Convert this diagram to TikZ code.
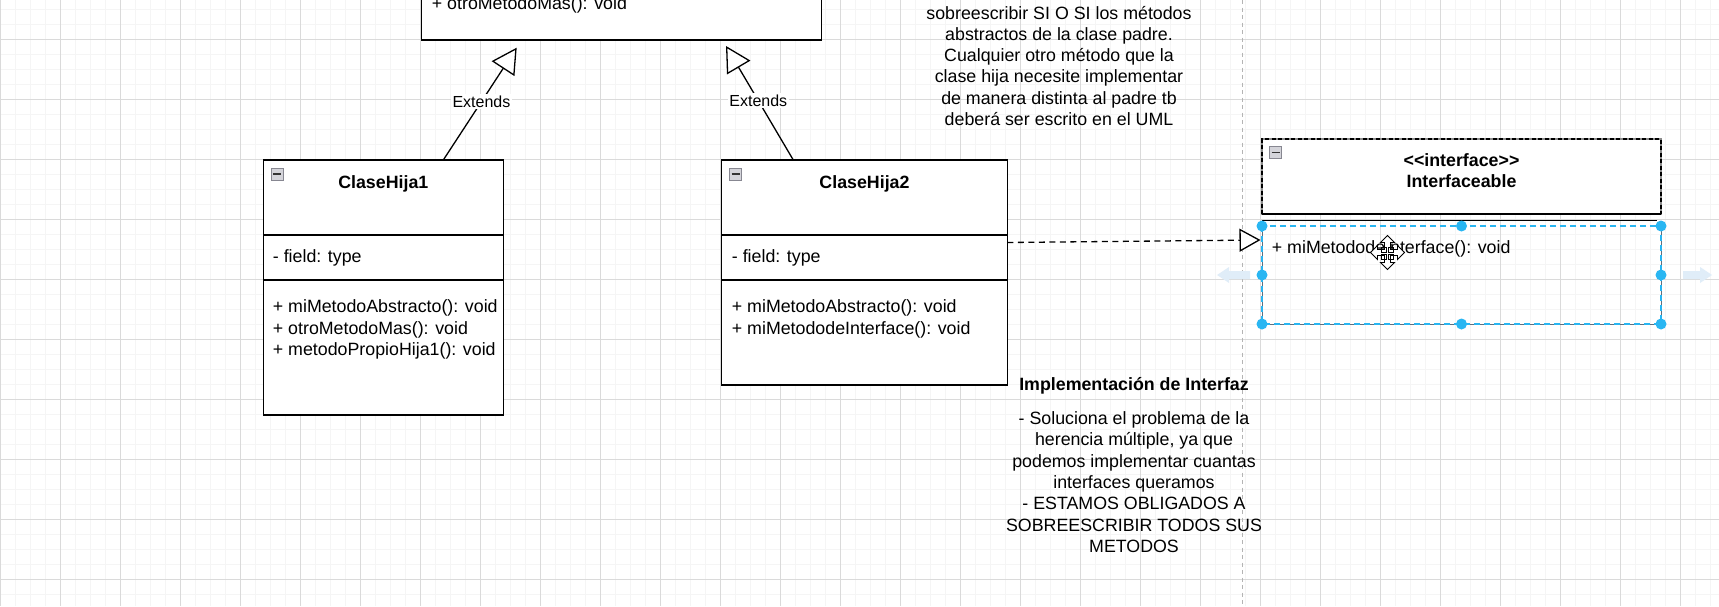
\documentclass[tikz,border=0pt]{standalone}
\usepackage{fontspec}
\setmainfont{Liberation Sans}
\usetikzlibrary{arrows.meta}
\definecolor{gridmajor}{RGB}{218,218,218}
\definecolor{gridminor}{RGB}{245,245,245}
\definecolor{selblue}{RGB}{41,182,242}
\definecolor{guidegray}{RGB}{180,180,180}
\definecolor{hoverblue}{RGB}{224,237,248}
\definecolor{iconfill}{RGB}{212,212,218}
\definecolor{icondraw}{RGB}{135,135,145}
\definecolor{edgegray}{RGB}{95,110,125}
\begin{document}
\begin{tikzpicture}[x=1pt,y=-1pt,
  font=\fontsize{17.8}{21.3}\selectfont,
  classbox/.style={draw=black, line width=1.5pt, fill=white, anchor=north west, inner sep=0pt, outer sep=0pt},
  divider/.style={draw=black, line width=1.5pt},
  member/.style={anchor=base west, inner sep=0pt},
  ctitle/.style={anchor=base, inner sep=0pt, font=\fontsize{17.8}{21.3}\selectfont\bfseries},
  extlabel/.style={fill=white, inner sep=1.5pt, font=\fontsize{16}{19}\selectfont},
  conn/.style={line width=1.3pt, draw=black},
  note/.style={align=center, inner sep=0pt, anchor=base},
  handle/.style={circle, fill=selblue, minimum size=11pt, inner sep=0pt},
  minbox/.style={draw=icondraw, fill=iconfill, line width=0.8pt, minimum size=12pt, inner sep=0pt,
    path picture={\draw[line width=1.8pt, black!80] ([xshift=-4pt]path picture bounding box.center) -- ([xshift=4pt]path picture bounding box.center);}},
  hoverarrow/.style={fill=hoverblue, draw=none}
]
\useasboundingbox (0,0) rectangle (1719,606);
\clip (0,0) rectangle (1719,606);
\fill[white] (0,0) rectangle (1719,606);
% grid
\foreach \i in {0,...,114} { \draw[gridminor, line width=1pt] (\i*15+0.3,0) -- (\i*15+0.3,606); }
\foreach \k in {-3,...,38} { \draw[gridminor, line width=1pt] (0,39.3+\k*15) -- (1719,39.3+\k*15); }
\foreach \i in {0,...,28} { \draw[gridmajor, line width=1pt] (\i*60+0.3,0) -- (\i*60+0.3,606); }
\foreach \k in {-1,...,9} { \draw[gridmajor, line width=1pt] (0,39.3+\k*60) -- (1719,39.3+\k*60); }
% vertical guide
\draw[guidegray, line width=1.3pt, dash pattern=on 4pt off 3.5pt] (1242.7,0) -- (1242.7,606);

% parent class (cut off at top)
\node[classbox, minimum width=400pt, minimum height=110pt] (parent) at (421.7,-70) {};
\node[member] (pm) at (431.7,9.5) {+ otroMetodoMas(): void};

% ClaseHija1
\node[classbox, minimum width=240pt, minimum height=255pt] (ch1) at (263.3,160) {};
\draw[divider] (263.3,235) -- (503.3,235);
\draw[divider] (263.3,280) -- (503.3,280);
\node[minbox] (ic1) at (277,174.2) {};
\node[ctitle] (t1) at (383.3,188) {ClaseHija1};
\node[member] (f1) at (272.7,262) {- field: type};
\node[member] (m11) at (272.7,312.5) {+ miMetodoAbstracto(): void};
\node[member] (m12) at (272.7,334) {+ otroMetodoMas(): void};
\node[member] (m13) at (272.7,355.5) {+ metodoPropioHija1(): void};

% ClaseHija2
\node[classbox, minimum width=285.6pt, minimum height=225pt] (ch2) at (721.7,160) {};
\draw[divider] (721.7,235) -- (1007.3,235);
\draw[divider] (721.7,280) -- (1007.3,280);
\node[minbox] (ic2) at (735.7,174.2) {};
\node[ctitle] (t2) at (864.5,188) {ClaseHija2};
\node[member] (f2) at (731.7,262) {- field: type};
\node[member] (m21) at (731.7,312.5) {+ miMetodoAbstracto(): void};
\node[member] (m22) at (731.7,334) {+ miMetododeInterface(): void};

% Interface
\node[classbox, draw=black!45, line width=1.2pt, minimum width=399pt, minimum height=75pt] (ifh) at (1262,139) {};
\draw[black, line width=1.3pt, dash pattern=on 4pt off 2.5pt] (1262,214) -- (1262,139) -- (1661,139) -- (1661,214);
\draw[black, line width=1.5pt] (1262,214) -- (1661,214);
\draw[black, line width=1.5pt] (1262,220.5) -- (1657,220.5);
\node[minbox] (ic3) at (1275.5,152.4) {};
\node[ctitle] (it1) at (1461.5,166) {<\kern0pt<interface>\kern0pt>};
\node[ctitle] (it2) at (1461.5,187) {Interfaceable};
\node[anchor=north west, inner sep=0pt, outer sep=0pt, minimum width=399pt, minimum height=98pt] (ifm) at (1262,226) {};
\draw[edgegray, line width=0.9pt] (1262,226) -- (1262,324) -- (1661,324) -- (1661,226);
\draw[selblue, line width=1.4pt, dash pattern=on 6pt off 4pt] (1262,226) rectangle (1661,324);
\node[member] (im) at (1271.7,253) {+ miMetododeInterface(): void};
% hover arrows
\fill[hoverarrow] (1217,275) -- (1229,267) -- (1229,271) -- (1250,271) -- (1250,279) -- (1229,279) -- (1229,283) -- cycle;
\fill[hoverarrow] (1712,275) -- (1700,267) -- (1700,271) -- (1683,271) -- (1683,279) -- (1700,279) -- (1700,283) -- cycle;
% handles
\foreach \p [count=\n] in {(1262,226),(1461.5,226),(1661,226),(1262,275),(1661,275),(1262,324),(1461.5,324),(1661,324)}
  { \node[handle] (h\n) at \p {}; }
% move cursor
\begin{scope}[shift={(1387.5,252.5)}]
\draw[fill=white, line width=0.9pt, line join=miter]
 (0,-17) -- (7,-10) -- (3,-10) -- (3,-3) -- (10,-3) -- (10,-7) -- (17,0) -- (10,7) -- (10,3) -- (3,3) -- (3,10) -- (7,10)
 -- (0,17) -- (-7,10) -- (-3,10) -- (-3,3) -- (-10,3) -- (-10,7) -- (-17,0) -- (-10,-7) -- (-10,-3) -- (-3,-3) -- (-3,-10) -- (-7,-10) -- cycle;
\draw[line width=0.8pt] (-6,-5) rectangle (-1,0) (1,-5) rectangle (6,0) (-6,2) rectangle (-1,7) (1,2) rectangle (6,7);
\end{scope}

% connectors
\coordinate (e1s) at (443.3,160);
\coordinate (e1t) at (516.7,47.7);
\coordinate (e2s) at (793.3,160);
\coordinate (e2t) at (726,46);
\coordinate (d1s) at (1007.3,242.5);
\coordinate (d1t) at (1260.5,240);
\draw[conn, -{Triangle[length=25pt,width=27pt,fill=white,line width=1.3pt]}] (e1s) -- node[extlabel, pos=0.52] (x1) {Extends} (e1t);
\draw[conn, -{Triangle[length=25pt,width=27pt,fill=white,line width=1.3pt]}] (e2s) -- node[extlabel, pos=0.52] (x2) {Extends} (e2t);
\draw[conn, dash pattern=on 6pt off 4.5pt, -{Triangle[length=21pt,width=23pt,fill=white,line width=1.3pt]}] (d1s) -- (d1t);

% notes (base anchor = baseline of the last line)
\node[note] (n1) at (1059,125.5) {sobreescribir SI O SI los métodos\\abstractos de la clase padre.\\Cualquier otro método que la\\clase hija necesite implementar\\de manera distinta al padre tb\\deberá ser escrito en el UML};
\node[note] (n2) at (1134,552.3) {\textbf{Implementación de Interfaz}\\[13.2pt]- Soluciona el problema de la\\herencia múltiple, ya que\\podemos implementar cuantas\\interfaces queramos\\- ESTAMOS OBLIGADOS A\\SOBREESCRIBIR TODOS SUS\\METODOS};
\end{tikzpicture}
\end{document}
